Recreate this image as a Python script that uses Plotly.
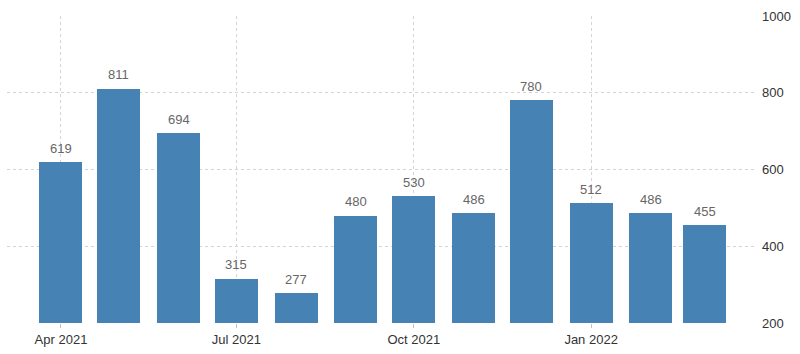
import plotly.graph_objects as go

months = ["2021-04-01", "2021-05-01", "2021-06-01", "2021-07-01", "2021-08-01", "2021-09-01",
          "2021-10-01", "2021-11-01", "2021-12-01", "2022-01-01", "2022-02-01", "2022-03-01"]
values = [619, 811, 694, 315, 277, 480, 530, 486, 780, 512, 486, 455]
x_ticks = ["2021-04-01", "2021-07-01", "2021-10-01", "2022-01-01"]
x_tick_labels = ["Apr 2021", "Jul 2021", "Oct 2021", "Jan 2022"]
y_ticks = [200, 400, 600, 800, 1000]

DAY = 86400000

fig = go.Figure()
fig.add_trace(go.Bar(
    x=months, y=values,
    width=[22.3 * DAY] * len(values),
    marker=dict(color="#4682B4", line=dict(width=0)),
    hoverinfo="x+y",
))

for m, v in zip(months, values):
    fig.add_annotation(
        x=m, y=v, text=str(v), showarrow=False,
        yanchor="middle", yshift=14,
        font=dict(family="Liberation Sans, Arial", size=13, color="#666666"),
    )

fig.update_layout(
    width=800, height=354,
    margin=dict(l=7, r=45, t=16, b=28),
    paper_bgcolor="white", plot_bgcolor="white",
    showlegend=False,
    bargap=0,
    xaxis=dict(
        type="date",
        range=["2021-03-04", "2022-03-27"],
        tickvals=x_ticks, ticktext=x_tick_labels,
        showgrid=True, gridcolor="#d4d4d4", griddash="dot", gridwidth=1,
        ticks="outside", ticklen=4, tickcolor="#c0c0c0",
        tickfont=dict(family="Liberation Sans, Arial", size=13, color="#333333"),
        showline=False, zeroline=False,
    ),
    yaxis=dict(
        side="right",
        range=[200, 1000],
        tickvals=y_ticks,
        showgrid=True, gridcolor="#d4d4d4", griddash="dot", gridwidth=1,
        tickfont=dict(family="Liberation Sans, Arial", size=13, color="#333333"),
        ticks="", ticklabelstandoff=6,
        showline=False, zeroline=False,
    ),
)

fig.write_html("out.html")
